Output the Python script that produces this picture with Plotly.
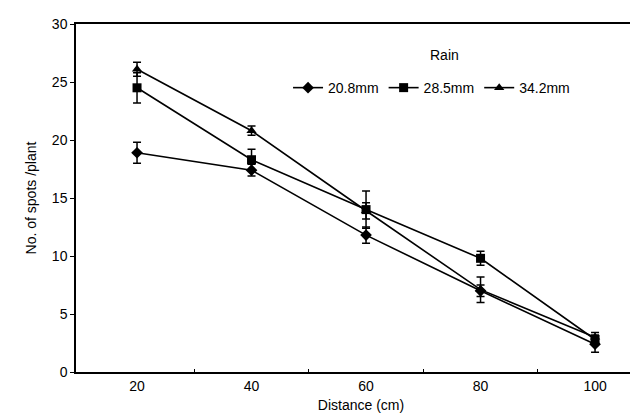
import plotly.graph_objects as go

distance = [20, 40, 60, 80, 100]
series_names = ["20.8mm", "28.5mm", "34.2mm"]
spots_208 = [18.9, 17.4, 11.8, 7.0, 2.4]
err_208 = [0.9, 0.5, 0.7, 0.5, 0.7]
spots_285 = [24.5, 18.3, 14.0, 9.8, 2.8]
err_285 = [1.3, 0.9, 1.6, 0.6, 0.4]
spots_342 = [26.1, 20.8, 13.9, 7.1, 3.0]
err_342 = [0.6, 0.4, 0.7, 1.1, 0.4]
y_ticks = [0, 5, 10, 15, 20, 25, 30]

FONT = "Liberation Sans Narrow, Liberation Sans, Arial, sans-serif"

fig = go.Figure()
for name, vals, errs, sym in [
    (series_names[0], spots_208, err_208, "diamond"),
    (series_names[1], spots_285, err_285, "square"),
    (series_names[2], spots_342, err_342, "triangle-up"),
]:
    fig.add_trace(go.Scatter(
        x=distance, y=vals, name=name, mode="lines+markers",
        line=dict(color="black", width=1.6),
        marker=dict(symbol=sym, size=9, color="black"),
        error_y=dict(type="data", array=errs, visible=True,
                     color="black", thickness=1.5, width=4),
    ))

fig.update_layout(
    width=638, height=419,
    margin=dict(l=68, r=0, t=16, b=55),
    paper_bgcolor="white", plot_bgcolor="white",
    font=dict(family=FONT, size=14, color="black"),
    showlegend=True,
    legend=dict(orientation="h", x=0.372, xanchor="left", y=0.816, yanchor="middle",
                font=dict(size=14), bgcolor="rgba(0,0,0,0)", itemwidth=30),
    xaxis=dict(range=[9.34, 108.9], tickvals=distance, ticktext=[str(d) for d in distance],
               ticks="", showline=True, linecolor="black", linewidth=1.5, mirror=True,
               showgrid=False, zeroline=False,
               minor=dict(tickvals=[30, 50, 70, 90], ticks="inside", ticklen=3,
                          tickcolor="black"),
               title=dict(text="Distance (cm)", standoff=8, font=dict(size=14))),
    yaxis=dict(range=[0, 30], tickvals=y_ticks, ticks="outside", ticklen=4,
               tickcolor="black", showline=True, linecolor="black", linewidth=1.5,
               showgrid=False, zeroline=False,
               title=dict(text="No. of spots /plant", standoff=12, font=dict(size=14))),
    annotations=[dict(text="Rain", x=60 + (435 - 357) / 5.725, y=0.91, xref="x", yref="paper",
                      showarrow=False, font=dict(size=14), xanchor="center", yanchor="middle")],
)

fig.write_html("out.html")
